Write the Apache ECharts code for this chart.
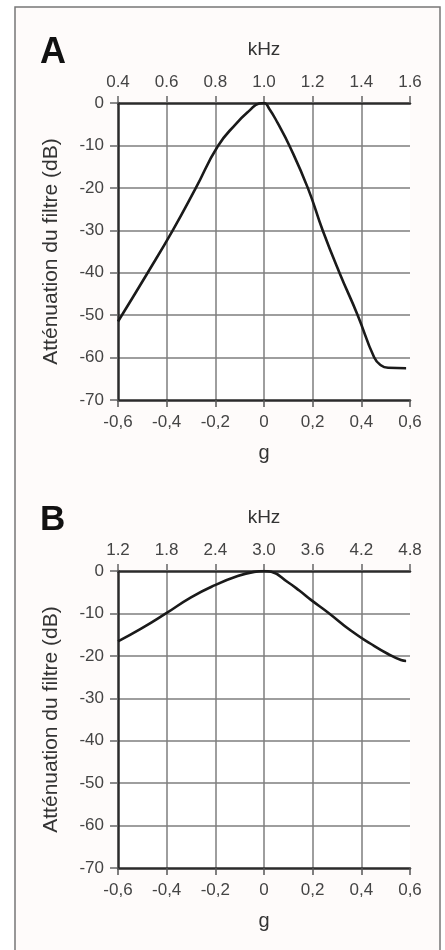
<!DOCTYPE html>
<html>
<head>
<meta charset="utf-8">
<script src="https://cdn.jsdelivr.net/npm/echarts@6/dist/echarts.min.js"></script>
<style>
  html, body { margin: 0; padding: 0; background: #fff; }
  #chart { width: 445px; height: 950px; }
</style>
</head>
<body>
<div id="chart"></div>
<script>
// g values (bottom axis) and attenuation in dB
const gA = [-0.6, -0.478, -0.375, -0.28, -0.19, -0.115, -0.06, -0.02, 0, 0.022, 0.056, 0.104, 0.18, 0.241, 0.31, 0.385, 0.453, 0.48, 0.51, 0.584];
const dbA = [-51.5, -40, -30, -20, -10.2, -4.9, -1.8, -0.1, 0, -1.4, -4.7, -10, -20, -30, -40, -50, -60, -61.8, -62.4, -62.5];

const gB = [-0.6, -0.505, -0.403, -0.3, -0.204, -0.108, -0.04, 0, 0.03, 0.097, 0.145, 0.193, 0.268, 0.358, 0.44, 0.508, 0.563, 0.584];
const dbB = [-16.6, -13.6, -10, -6.2, -3.4, -1.2, -0.2, 0, -0.2, -2.6, -4.6, -6.8, -10, -14.1, -17.2, -19.5, -21, -21.2];

// tick labels
const gLabels = ['-0,6', '-0,4', '-0,2', '0', '0,2', '0,4', '0,6'];
const kHzLabelsA = ['0.4', '0.6', '0.8', '1.0', '1.2', '1.4', '1.6'];
const kHzLabelsB = ['1.2', '1.8', '2.4', '3.0', '3.6', '4.2', '4.8'];

const font = 'Liberation Sans, Arial, Helvetica, sans-serif';
const dark = '#2b2b2b';
const gridColor = '#7e7e7e';
const labelStyle = { fontFamily: font, fontSize: 17, color: '#444' };

function pair(xs, ys) {
    return xs.map((x, i) => [x, ys[i]]);
}

function bottomAxis(gridIndex) {
    return {
        type: 'value', gridIndex: gridIndex, position: 'bottom',
        min: -0.6, max: 0.6, interval: 0.2,
        name: 'g', nameLocation: 'middle', nameGap: 43,
        nameTextStyle: { fontFamily: font, fontSize: 20, color: '#333' },
        axisLine: { onZero: false, lineStyle: { color: dark, width: 2.5 } },
        axisTick: { length: 7, lineStyle: { color: '#555', width: 1.5 } },
        axisLabel: Object.assign({ margin: 14, formatter: (v) => gLabels[Math.round((v + 0.6) / 0.2)] }, labelStyle),
        splitLine: { show: true, showMinLine: false, showMaxLine: false, lineStyle: { color: gridColor, width: 1.5 } }
    };
}

function topAxis(gridIndex, min, max, step, labels) {
    return {
        type: 'value', gridIndex: gridIndex, position: 'top',
        min: min, max: max, interval: step,
        name: 'kHz', nameLocation: 'middle', nameGap: 44,
        nameTextStyle: { fontFamily: font, fontSize: 19, color: '#333' },
        axisLine: { onZero: false, lineStyle: { color: dark, width: 2.5 } },
        axisTick: { length: 7, lineStyle: { color: '#666', width: 1.5 } },
        axisLabel: Object.assign({ margin: 12, formatter: (v) => labels[Math.round((v - min) / step)] }, labelStyle),
        splitLine: { show: false }
    };
}

function leftAxis(gridIndex) {
    return {
        type: 'value', gridIndex: gridIndex,
        min: -70, max: 0, interval: 10,
        name: 'Atténuation du filtre (dB)', nameLocation: 'middle', nameGap: 56, nameRotate: 90,
        nameTextStyle: { fontFamily: font, fontSize: 21, color: '#333' },
        axisLine: { show: true, onZero: false, lineStyle: { color: dark, width: 2.5 } },
        axisTick: { show: true, length: 8, lineStyle: { color: '#666', width: 1.5 } },
        axisLabel: Object.assign({ margin: 14 }, labelStyle),
        splitLine: { show: true, showMinLine: false, showMaxLine: false, lineStyle: { color: gridColor, width: 1.5 } }
    };
}

function curve(xAxisIndex, yAxisIndex, data) {
    return {
        type: 'line', xAxisIndex: xAxisIndex, yAxisIndex: yAxisIndex,
        data: data, smooth: 0.5, symbol: 'none',
        lineStyle: { color: '#1a1a1a', width: 2.6 },
        silent: true, animation: false
    };
}

const chart = echarts.init(document.getElementById('chart'));
chart.setOption({
    backgroundColor: '#fff',
    animation: false,
    graphic: [
        { type: 'rect', z: -10, shape: { x: 15, y: 7, width: 425, height: 945 },
          style: { fill: '#fefbfa', stroke: '#777', lineWidth: 1.5 } },
        { type: 'text', left: 40, top: 35,
          style: { text: 'A', font: 'bold 36px ' + font, fill: '#111' } },
        { type: 'text', left: 40, top: 503,
          style: { text: 'B', font: 'bold 35px ' + font, fill: '#111' } }
    ],
    grid: [
        { left: 118, top: 103, width: 292, height: 297, show: true, backgroundColor: '#fff', borderWidth: 0 },
        { left: 118, top: 571, width: 292, height: 297, show: true, backgroundColor: '#fff', borderWidth: 0 }
    ],
    xAxis: [
        bottomAxis(0),
        topAxis(0, 0.4, 1.6, 0.2, kHzLabelsA),
        bottomAxis(1),
        topAxis(1, 1.2, 4.8, 0.6, kHzLabelsB)
    ],
    yAxis: [leftAxis(0), leftAxis(1)],
    series: [
        curve(0, 0, pair(gA, dbA)),
        curve(2, 1, pair(gB, dbB))
    ]
});
</script>
</body>
</html>
